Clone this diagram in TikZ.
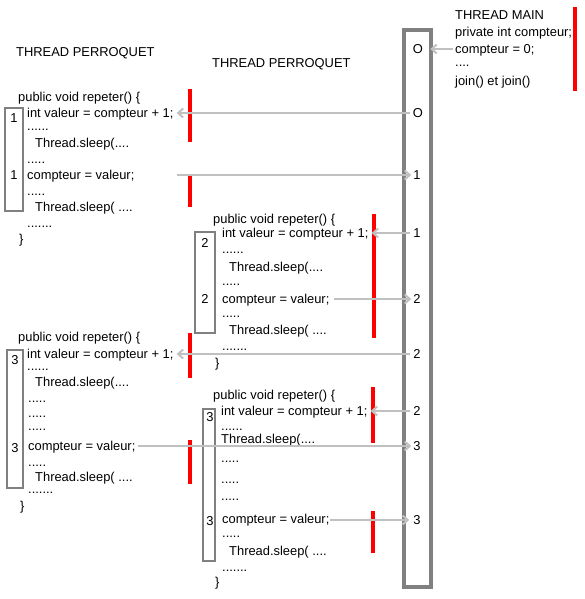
\documentclass[tikz,border=0pt]{standalone}
\usepackage{fontspec}
\setmainfont{Liberation Sans}
\usetikzlibrary{arrows.meta}
\definecolor{arrowgray}{HTML}{C0C0C0}
\definecolor{boxgray}{HTML}{808080}
\definecolor{barred}{HTML}{FF0000}
\begin{document}
\begin{tikzpicture}[x=1pt,y=-1pt,
  txt/.style={anchor=west,inner sep=0pt,text height=9pt,text depth=0pt,font=\fontsize{12.9}{15}\selectfont},
  val/.style={inner sep=0pt,text height=9pt,text depth=0pt,font=\fontsize{12.9}{15}\selectfont},
  flow/.style={draw=arrowgray,line width=2pt,-{Straight Barb[length=5pt,width=9pt]}},
  membox/.style={draw=boxgray,line width=4pt},
  numbox/.style={draw=boxgray,line width=2pt},
  redbar/.style={draw=barred,line width=4pt}]
\useasboundingbox (0,0) rectangle (585,599);

% memory box and values
\draw[membox] (404,30) rectangle (431,587);
\node[val] (v0) at (418,49) {O};
\node[val] (v1) at (418,113) {O};
\node[val] (v2) at (417,175) {1};
\node[val] (v3) at (417,233) {1};
\node[val] (v4) at (417,299) {2};
\node[val] (v5) at (417,354) {2};
\node[val] (v6) at (417,411) {2};
\node[val] (v7) at (417,446) {3};
\node[val] (v8) at (417,520) {3};

% thread main
\node[txt] (mt) at (455,15) {THREAD MAIN};
\node[txt] (mp) at (455,32) {private int compteur;};
\node[txt] (mc) at (455,49) {compteur = 0;};
\node[txt] (md) at (455,62) {....};
\node[txt] (mj) at (455,81) {join() et join()};
\draw[redbar] (575,7) -- (575,91);

% left thread, first run
\node[txt] (a0) at (16,52) {THREAD PERROQUET};
\node[txt] (a1) at (18,97) {public void repeter() \{};
\node[txt] (a2) at (27,113) {int valeur = compteur + 1;};
\node[txt] (a3) at (27,126) {......};
\node[txt] (a4) at (35,143) {Thread.sleep(....};
\node[txt] (a5) at (27,159) {.....};
\node[txt] (a6) at (27,175) {compteur = valeur;};
\node[txt] (a7) at (27,191) {.....};
\node[txt] (a8) at (35,207) {Thread.sleep( ....};
\node[txt] (a9) at (27,223) {.......};
\node[txt] (a10) at (19,239) {\}};
\draw[numbox] (5,108) rectangle (23,211);
\node[val] (na1) at (14,118) {1};
\node[val] (na2) at (14,175) {1};
\draw[redbar] (190,89) -- (190,142);
\draw[redbar] (190,175) -- (190,207);

% middle thread, first run
\node[txt] (b0) at (212,63) {THREAD PERROQUET};
\node[txt] (b1) at (213,219) {public void repeter() \{};
\node[txt] (b2) at (222,233) {int valeur = compteur + 1;};
\node[txt] (b3) at (222,249) {......};
\node[txt] (b4) at (229,267) {Thread.sleep(....};
\node[txt] (b5) at (222,281) {.....};
\node[txt] (b6) at (222,299) {compteur = valeur;};
\node[txt] (b7) at (222,313) {.....};
\node[txt] (b8) at (229,330) {Thread.sleep( ....};
\node[txt] (b9) at (222,346) {.......};
\node[txt] (b10) at (215,363) {\}};
\draw[numbox] (195,232) rectangle (215,333);
\node[val] (nb1) at (205,243) {2};
\node[val] (nb2) at (205,299) {2};
\draw[redbar] (374,214) -- (374,338);

% left thread, second run
\node[txt] (c1) at (18,337) {public void repeter() \{};
\node[txt] (c2) at (27,354) {int valeur = compteur + 1;};
\node[txt] (c3) at (27,366) {......};
\node[txt] (c4) at (35,382) {Thread.sleep(....};
\node[txt] (c5) at (28,398) {.....};
\node[txt] (c6) at (28,413) {.....};
\node[txt] (c7) at (28,426) {.....};
\node[txt] (c8) at (28,446) {compteur = valeur;};
\node[txt] (c9) at (28,462) {.....};
\node[txt] (c10) at (35,477) {Thread.sleep( ....};
\node[txt] (c11) at (28,489) {.......};
\node[txt] (c12) at (20,506) {\}};
\draw[numbox] (7,350) rectangle (23,488);
\node[val] (nc1) at (15,360) {3};
\node[val] (nc2) at (15,448) {3};
\draw[redbar] (190,333) -- (190,378);
\draw[redbar] (190,440) -- (190,484);

% middle thread, second run
\node[txt] (d1) at (213,395) {public void repeter() \{};
\node[txt] (d2) at (221,411) {int valeur = compteur + 1;};
\node[txt] (d3) at (221,426) {......};
\node[txt] (d4) at (221,439) {Thread.sleep(....};
\node[txt] (d5) at (221,458) {.....};
\node[txt] (d6) at (221,479) {.....};
\node[txt] (d7) at (221,496) {.....};
\node[txt] (d8) at (222,519) {compteur = valeur;};
\node[txt] (d9) at (222,533) {.....};
\node[txt] (d10) at (229,551) {Thread.sleep( ....};
\node[txt] (d11) at (222,567) {.......};
\node[txt] (d12) at (215,582) {\}};
\draw[numbox] (203,409) rectangle (215,561);
\node[val] (nd1) at (210,417) {3};
\node[val] (nd2) at (210,521) {3};
\draw[redbar] (373,387) -- (373,443);
\draw[redbar] (373,511) -- (373,553);

% free starting points of the writes
\coordinate (s1) at (177,175);
\coordinate (s2) at (334,299);
\coordinate (s3) at (138,446);
\coordinate (s4) at (330,520);

% reads and writes
\draw[flow] ([xshift=-2pt]mc.west) -- ([xshift=7pt]v0.east);
\draw[flow] ([xshift=-3pt]v1.west) -- ([xshift=3pt]a2.east);
\draw[flow] (s1) -- ([xshift=-2pt]v2.west);
\draw[flow] ([xshift=-3pt]v3.west) -- ([xshift=3pt]b2.east);
\draw[flow] (s2) -- ([xshift=-2pt]v4.west);
\draw[flow] ([xshift=-3pt]v5.west) -- ([xshift=3pt]c2.east);
\draw[flow] ([xshift=-3pt]v6.west) -- ([xshift=3pt]d2.east);
\draw[flow] (s3) -- ([xshift=-2pt]v7.west);
\draw[flow] (s4) -- ([xshift=-4pt]v8.west);
\end{tikzpicture}
\end{document}
